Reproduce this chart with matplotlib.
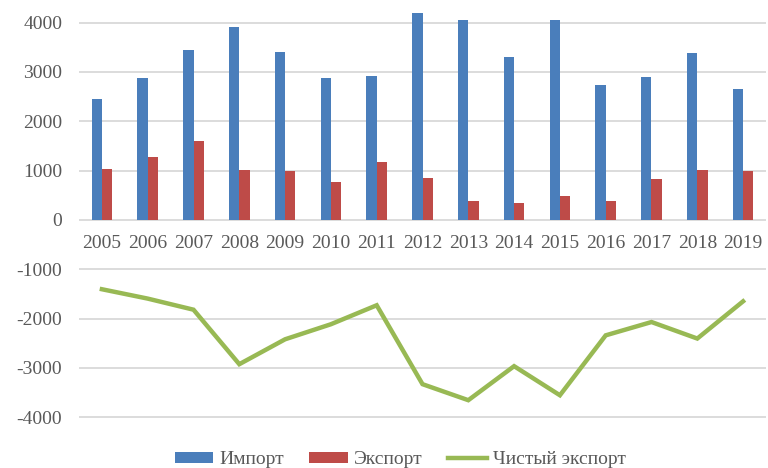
import matplotlib.pyplot as plt
import numpy as np

# ----------------------- Data ---------------------------
years = ["2005", "2006", "2007", "2008", "2009", "2010", "2011", "2012",
         "2013", "2014", "2015", "2016", "2017", "2018", "2019"]
imports = [2450, 2870, 3450, 3920, 3400, 2870, 2910, 4190,
           4050, 3310, 4050, 2730, 2890, 3390, 2650]
exports = [1030, 1280, 1600, 1010, 990, 770, 1180, 860,
           390, 340, 490, 390, 830, 1020, 1000]
net_exports = [-1405, -1595, -1820, -2925, -2420, -2115, -1730, -3330,
               -3655, -2965, -3555, -2340, -2070, -2405, -1650]

# ----------------------- Style ---------------------------
plt.rcParams['font.family'] = ['Liberation Serif', 'DejaVu Serif']
plt.rcParams['axes.unicode_minus'] = False
text_col = "#595959"
blue, red, green = "#4A7EBB", "#BE4B48", "#98B954"

fig = plt.figure(figsize=(7.68, 4.68), dpi=100)
ax = fig.add_axes([79 / 768, 36 / 468, 687 / 768, 432 / 468])

x = np.arange(len(years))
w = 0.225
b1 = ax.bar(x - w / 2, imports, width=w, color=blue, label="Импорт", zorder=3)
b2 = ax.bar(x + w / 2, exports, width=w, color=red, label="Экспорт", zorder=3)
l1, = ax.plot(x, net_exports, color=green, linewidth=3.2, label="Чистый экспорт",
              zorder=4, solid_joinstyle='miter')

ax.set_xlim(-0.5, len(years) - 0.5)
ax.set_ylim(-4300, 4460)
ax.set_yticks(np.arange(-4000, 4001, 1000))
ax.yaxis.grid(True, color="#D9D9D9", linewidth=1.3, zorder=0)
ax.set_axisbelow(True)

# x labels sit just under the zero line
ax.spines['bottom'].set_position(('data', 0))
for s in ax.spines.values():
    s.set_visible(False)
ax.set_xticks(x)
ax.set_xticklabels(years)
ax.tick_params(axis='x', length=0, pad=11, labelsize=14, labelcolor=text_col)
ax.tick_params(axis='y', length=0, pad=12, labelsize=14, labelcolor=text_col)

fig.legend([b1, b2, l1], ["Импорт", "Экспорт", "Чистый экспорт"],
           loc='center', bbox_to_anchor=(400 / 768, 8 / 468), ncol=3,
           frameon=False, fontsize=14, handlelength=2.0, handleheight=0.45,
           columnspacing=1.3, handletextpad=0.3, labelcolor=text_col)

plt.savefig("out.png", dpi=100)
